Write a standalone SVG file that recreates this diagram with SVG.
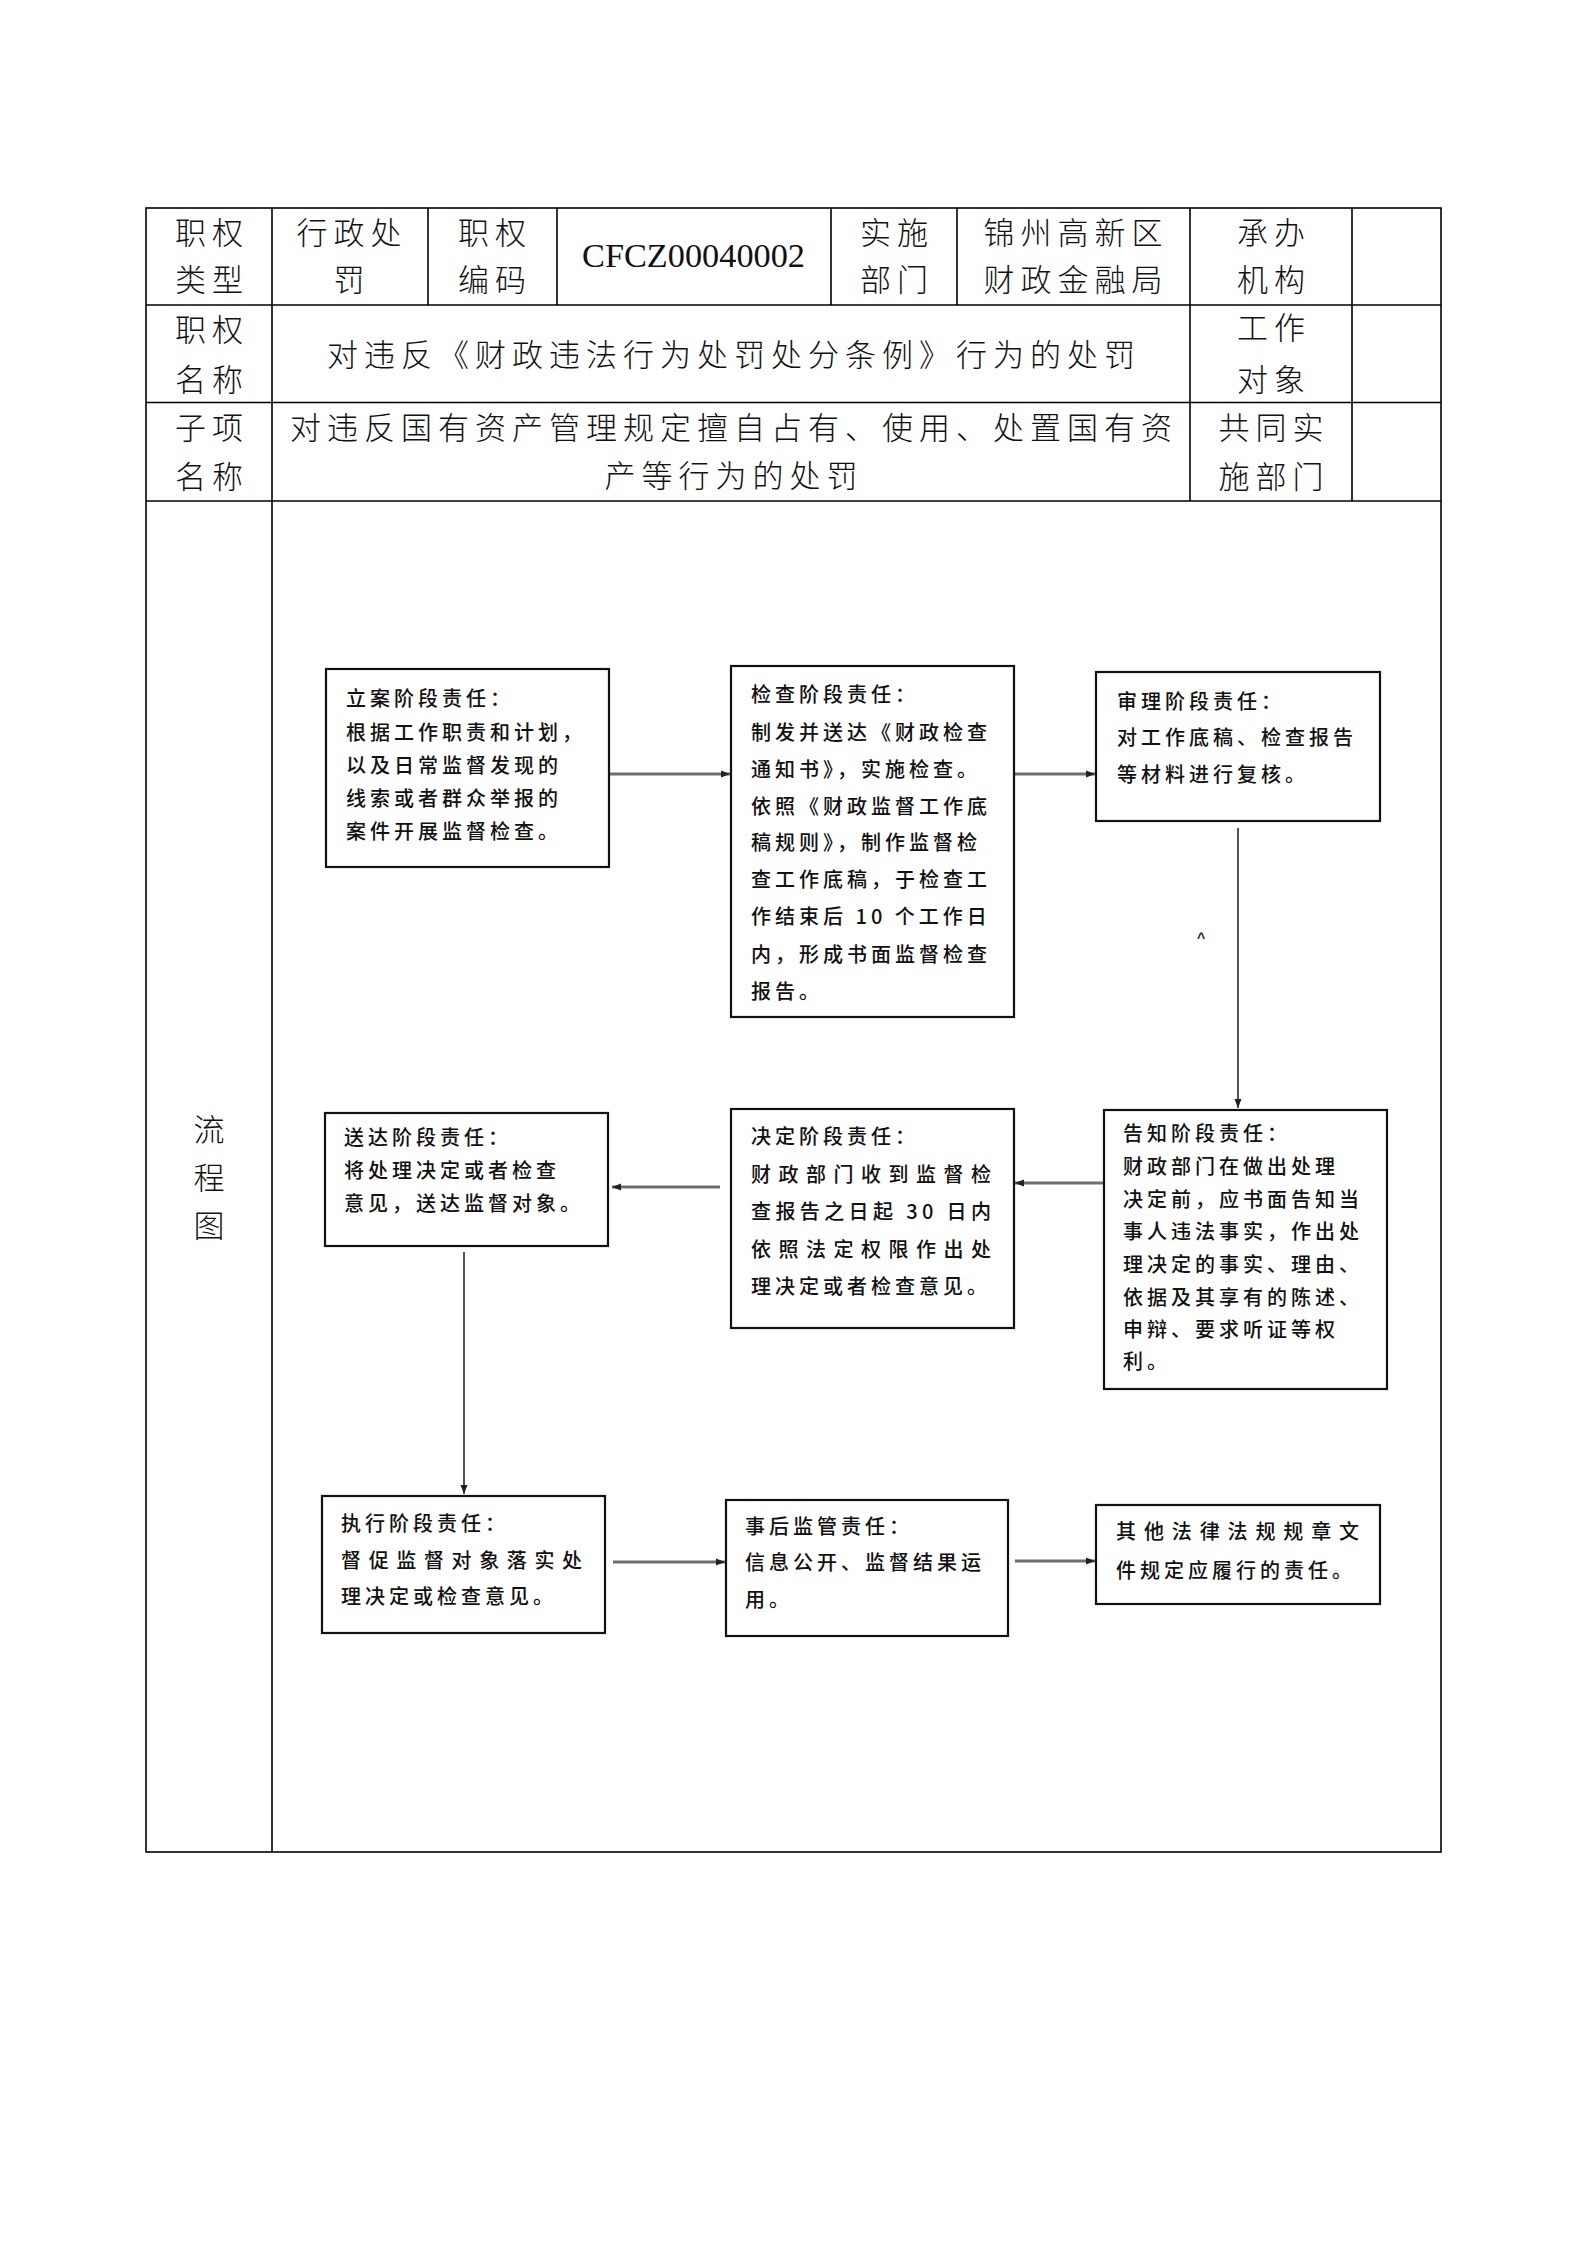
<svg xmlns="http://www.w3.org/2000/svg" width="1587" height="2245" viewBox="0 0 1587 2245">
<defs>
<style>
.tb{fill:none;stroke:#000;stroke-width:1.6}
.tt{font-family:"Noto Sans CJK SC",sans-serif;font-size:31px;letter-spacing:6px;fill:#111;text-anchor:middle;font-weight:300}
.bx{fill:#fff;stroke:#111;stroke-width:2.2}
.bt{font-family:"Noto Sans CJK SC",sans-serif;font-size:20px;letter-spacing:4px;fill:#111;font-weight:500}
.cn{stroke:#6e6e6e;stroke-width:3;fill:none}
.cv{stroke:#555;stroke-width:2;fill:none}
</style>
<marker id="ah" markerUnits="userSpaceOnUse" markerWidth="10" markerHeight="10" refX="9" refY="5" orient="auto">
<path d="M0,1.5 L9,5 L0,8.5 Z" fill="#222"/>
</marker>
</defs>
<rect width="1587" height="2245" fill="#fff"/>
<g id="table">
<rect class="tb" x="146" y="208" width="1295" height="1644"/>
<line class="tb" x1="146" y1="305" x2="1441" y2="305"/>
<line class="tb" x1="146" y1="402.5" x2="1441" y2="402.5"/>
<line class="tb" x1="146" y1="501" x2="1441" y2="501"/>
<line class="tb" x1="272" y1="208" x2="272" y2="1852"/>
<line class="tb" x1="428" y1="208" x2="428" y2="305"/>
<line class="tb" x1="557" y1="208" x2="557" y2="305"/>
<line class="tb" x1="831" y1="208" x2="831" y2="305"/>
<line class="tb" x1="957" y1="208" x2="957" y2="305"/>
<line class="tb" x1="1190" y1="208" x2="1190" y2="501"/>
<line class="tb" x1="1352" y1="208" x2="1352" y2="501"/>
<text class="tt" x="212" y="244">职权</text>
<text class="tt" x="212" y="291">类型</text>
<text class="tt" x="352" y="244">行政处</text>
<text class="tt" x="352" y="291">罚</text>
<text class="tt" x="495" y="244">职权</text>
<text class="tt" x="495" y="291">编码</text>
<text x="582" y="267" textLength="223" lengthAdjust="spacingAndGlyphs" style="font-family:'Liberation Serif',serif;font-size:33px;fill:#111">CFCZ00040002</text>
<text class="tt" x="897" y="244">实施</text>
<text class="tt" x="897" y="291">部门</text>
<text class="tt" x="1076" y="244">锦州高新区</text>
<text class="tt" x="1076" y="291">财政金融局</text>
<text class="tt" x="1274" y="244">承办</text>
<text class="tt" x="1274" y="291">机构</text>
<text class="tt" x="212" y="341">职权</text>
<text class="tt" x="212" y="391">名称</text>
<text class="tt" x="734" y="366">对违反《财政违法行为处罚处分条例》行为的处罚</text>
<text class="tt" x="1274" y="339">工作</text>
<text class="tt" x="1274" y="391">对象</text>
<text class="tt" x="212" y="439">子项</text>
<text class="tt" x="212" y="488">名称</text>
<text class="tt" x="734" y="439">对违反国有资产管理规定擅自占有、使用、处置国有资</text>
<text class="tt" x="734" y="487">产等行为的处罚</text>
<text class="tt" x="1274" y="439">共同实</text>
<text class="tt" x="1274" y="488">施部门</text>
<text class="tt" x="212" y="1141">流</text>
<text class="tt" x="212" y="1189">程</text>
<text class="tt" x="212" y="1237">图</text>
</g>
<g id="connectors">
<line class="cn" x1="609" y1="774" x2="730" y2="774" marker-end="url(#ah)"/>
<line class="cn" x1="1014" y1="774" x2="1095" y2="774" marker-end="url(#ah)"/>
<line class="cv" x1="1238" y1="828" x2="1238" y2="1108" marker-end="url(#ah)"/>
<line class="cn" x1="1104" y1="1183" x2="1015" y2="1183" marker-end="url(#ah)"/>
<line class="cn" x1="720" y1="1187" x2="612" y2="1187" marker-end="url(#ah)"/>
<line class="cv" x1="464" y1="1252" x2="464" y2="1494" marker-end="url(#ah)"/>
<line class="cn" x1="613" y1="1562" x2="725" y2="1562" marker-end="url(#ah)"/>
<line class="cn" x1="1015" y1="1561" x2="1095" y2="1561" marker-end="url(#ah)"/>
<text x="1201" y="943" style="font-family:'Liberation Sans',sans-serif;font-size:14px;font-weight:bold;fill:#222" text-anchor="middle">^</text>
</g>
<g id="n1">
<rect class="bx" x="326" y="669" width="283" height="198"/>
<text class="bt" x="346" y="706">立案阶段责任：</text>
<text class="bt" x="346" y="740">根据工作职责和计划，</text>
<text class="bt" x="346" y="773">以及日常监督发现的</text>
<text class="bt" x="346" y="806">线索或者群众举报的</text>
<text class="bt" x="346" y="839">案件开展监督检查。</text>
</g>
<g id="n2">
<rect class="bx" x="731" y="666" width="283" height="351"/>
<text class="bt" x="751" y="702">检查阶段责任：</text>
<text class="bt" x="751" y="740">制发并送达《财政检查</text>
<text class="bt" x="751" y="777">通知书》，实施检查。</text>
<text class="bt" x="751" y="814">依照《财政监督工作底</text>
<text class="bt" x="751" y="850">稿规则》，制作监督检</text>
<text class="bt" x="751" y="887">查工作底稿，于检查工</text>
<text class="bt" x="751" y="924">作结束后 10 个工作日</text>
<text class="bt" x="751" y="962">内，形成书面监督检查</text>
<text class="bt" x="751" y="999">报告。</text>
</g>
<g id="n3">
<rect class="bx" x="1096" y="672" width="284" height="149"/>
<text class="bt" x="1117" y="709">审理阶段责任：</text>
<text class="bt" x="1117" y="745">对工作底稿、检查报告</text>
<text class="bt" x="1117" y="782">等材料进行复核。</text>
</g>
<g id="n4">
<rect class="bx" x="325" y="1113" width="283" height="133"/>
<text class="bt" x="344" y="1145">送达阶段责任：</text>
<text class="bt" x="344" y="1178">将处理决定或者检查</text>
<text class="bt" x="344" y="1211">意见，送达监督对象。</text>
</g>
<g id="n5">
<rect class="bx" x="731" y="1109" width="283" height="219"/>
<text class="bt" x="751" y="1144">决定阶段责任：</text>
<text class="bt" x="751" y="1182" textLength="244" lengthAdjust="spacing">财政部门收到监督检</text>
<text class="bt" x="751" y="1219" textLength="244" lengthAdjust="spacing">查报告之日起 30 日内</text>
<text class="bt" x="751" y="1257" textLength="244" lengthAdjust="spacing">依照法定权限作出处</text>
<text class="bt" x="751" y="1294">理决定或者检查意见。</text>
</g>
<g id="n6">
<rect class="bx" x="1104" y="1110" width="283" height="279"/>
<text class="bt" x="1123" y="1141">告知阶段责任：</text>
<text class="bt" x="1123" y="1174">财政部门在做出处理</text>
<text class="bt" x="1123" y="1207">决定前，应书面告知当</text>
<text class="bt" x="1123" y="1239">事人违法事实，作出处</text>
<text class="bt" x="1123" y="1272">理决定的事实、理由、</text>
<text class="bt" x="1123" y="1305">依据及其享有的陈述、</text>
<text class="bt" x="1123" y="1337">申辩、要求听证等权</text>
<text class="bt" x="1123" y="1369">利。</text>
</g>
<g id="n7">
<rect class="bx" x="322" y="1496" width="283" height="137"/>
<text class="bt" x="341" y="1531">执行阶段责任：</text>
<text class="bt" x="341" y="1568" textLength="245" lengthAdjust="spacing">督促监督对象落实处</text>
<text class="bt" x="341" y="1604">理决定或检查意见。</text>
</g>
<g id="n8">
<rect class="bx" x="726" y="1500" width="282" height="136"/>
<text class="bt" x="745" y="1534">事后监管责任：</text>
<text class="bt" x="745" y="1570">信息公开、监督结果运</text>
<text class="bt" x="745" y="1607">用。</text>
</g>
<g id="n9">
<rect class="bx" x="1096" y="1505" width="284" height="99"/>
<text class="bt" x="1116" y="1539" textLength="247" lengthAdjust="spacing">其他法律法规规章文</text>
<text class="bt" x="1116" y="1578">件规定应履行的责任。</text>
</g>
</svg>
